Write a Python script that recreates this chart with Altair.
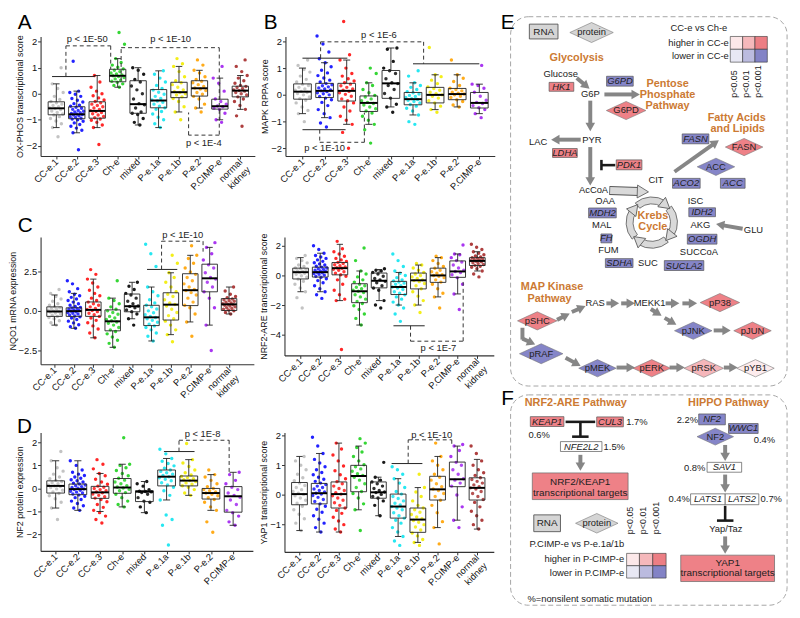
import math
import altair as alt
import pandas as pd

FONT = "Liberation Sans"

GROUPS = ["CC-e.1", "CC-e.2", "CC-e.3", "Ch-e", "mixed", "P-e.1a", "P-e.1b", "P-e.2", "P.CIMP-e", "normal kidney"]
GROUP_COLORS = ["#bdbdbd", "#0a0aff", "#ff1010", "#1fd21f", "#000000", "#10e4f0", "#f2ec00", "#ffa200", "#a020f0", "#a52a2a"]

# ---------------- Panel A : OX-PHOS transcriptional score ----------------
A_points = {
    "CC-e.1": [-1.65, -1.3, -1.15, -1.05, -0.95, -0.88, -0.82, -0.78, -0.72, -0.66, -0.61, -0.57, -0.55, -0.5, -0.45, -0.4, -0.35, -0.3, -0.22, -0.1, 0.05, 0.2, 0.38, 1.0],
    "CC-e.2": [-2.15, -1.5, -1.4, -1.32, -1.25, -1.18, -1.12, -1.06, -1.0, -0.97, -0.94, -0.91, -0.88, -0.85, -0.82, -0.8, -0.78, -0.76, -0.73, -0.7, -0.67, -0.64, -0.6, -0.56, -0.52, -0.48, -0.44, -0.38, -0.32, -0.25, -0.18, -0.1, -0.02, 0.05, 0.1, 1.25],
    "CC-e.3": [-1.95, -1.3, -1.2, -1.1, -1.02, -0.97, -0.92, -0.87, -0.82, -0.77, -0.72, -0.68, -0.65, -0.6, -0.55, -0.5, -0.45, -0.4, -0.35, -0.3, -0.24, -0.16, -0.08, 0.0, 0.1, 0.25, 0.45, 0.7],
    "Ch-e": [0.25, 0.32, 0.38, 0.44, 0.48, 0.52, 0.57, 0.62, 0.66, 0.69, 0.72, 0.76, 0.8, 0.85, 0.9, 0.95, 1.02, 1.1, 1.2, 1.35, 1.9, 2.35],
    "mixed": [-1.2, -1.1, -0.95, -0.8, -0.75, -0.7, -0.55, -0.42, -0.38, -0.2, 0.0, 0.15, 0.3, 0.45, 0.55, 0.75, 0.9, 1.0],
    "P-e.1a": [-1.3, -1.15, -1.0, -0.9, -0.78, -0.68, -0.6, -0.54, -0.48, -0.4, -0.33, -0.28, -0.24, -0.18, -0.1, -0.02, 0.06, 0.14, 0.2, 0.32, 0.45, 0.6, 0.75, 0.88],
    "P-e.1b": [-1.0, -0.7, -0.5, -0.3, -0.18, -0.12, -0.05, 0.0, 0.05, 0.08, 0.15, 0.25, 0.35, 0.42, 0.5, 0.65, 0.85, 1.05, 1.15, 1.35],
    "P-e.2": [-0.7, -0.55, -0.4, -0.2, -0.1, -0.02, 0.05, 0.12, 0.18, 0.22, 0.28, 0.35, 0.42, 0.48, 0.55, 0.65, 0.8, 0.9, 1.1, 1.3],
    "P.CIMP-e": [-1.1, -1.0, -0.75, -0.6, -0.55, -0.5, -0.47, -0.4, -0.3, -0.2, 0.1, 0.4, 0.6, 1.05],
    "normal kidney": [-1.25, -0.85, -0.6, -0.45, -0.3, -0.2, -0.12, -0.05, 0.0, 0.05, 0.1, 0.12, 0.15, 0.2, 0.24, 0.28, 0.32, 0.4, 0.5, 0.6, 0.7, 0.85, 1.05, 1.3],
}
A_q1 = [-0.81, -0.96, -0.94, 0.46, -0.75, -0.54, -0.15, -0.09, -0.59, -0.12]
A_med = [-0.56, -0.79, -0.66, 0.69, -0.40, -0.26, 0.06, 0.21, -0.48, 0.12]
A_q3 = [-0.31, -0.50, -0.31, 0.94, 0.50, 0.16, 0.44, 0.50, -0.21, 0.29]
A_lo = [-1.30, -1.50, -1.30, 0.25, -1.20, -1.30, -0.70, -0.55, -1.00, -0.60]
A_hi = [0.38, 0.10, 0.70, 1.35, 1.00, 0.88, 1.05, 0.90, 0.60, 0.70]
A_solid = [(-0.21, 0.66, 1.88, 0.66)]
A_dashed = [[(0.47, 0.66), (0.47, 1.84), (2.66, 1.84), (2.66, 0.94)],
            [(3.17, 0.5), (3.17, 1.77), (7.97, 1.77), (7.97, -1.59), (6.47, -1.59), (6.47, -0.72)]]
A_ptext = [("p < 1E-50", 1.51, 2.12), ("p < 1E-10", 5.59, 2.12), ("p < 1E-4", 7.21, -1.88)]

# ---------------- Panel B : MAPK RPPA score ----------------
B_points = {
    "CC-e.1": [-1.0, -0.7, -0.58, -0.45, -0.3, -0.2, -0.14, -0.08, 0.0, 0.05, 0.1, 0.13, 0.17, 0.22, 0.28, 0.35, 0.4, 0.48, 0.58, 0.7, 0.85, 0.95, 1.1, 1.3],
    "CC-e.2": [-1.2, -1.05, -0.85, -0.7, -0.55, -0.4, -0.28, -0.18, -0.12, -0.06, 0.0, 0.04, 0.08, 0.12, 0.15, 0.18, 0.22, 0.26, 0.3, 0.34, 0.38, 0.42, 0.48, 0.55, 0.63, 0.72, 0.82, 0.92, 1.05, 1.2, 1.35, 1.6, 1.9, 2.2],
    "CC-e.3": [-1.99, -1.4, -1.1, -0.95, -0.8, -0.6, -0.45, -0.3, -0.22, -0.15, -0.05, 0.02, 0.08, 0.13, 0.17, 0.22, 0.28, 0.34, 0.4, 0.45, 0.52, 0.6, 0.7, 0.8, 1.0, 1.3, 1.5, 2.74],
    "Ch-e": [-1.8, -1.3, -1.1, -0.95, -0.8, -0.68, -0.6, -0.52, -0.45, -0.38, -0.32, -0.28, -0.22, -0.15, -0.08, -0.02, 0.08, 0.2, 0.35, 0.45, 0.8, 1.0],
    "mixed": [-0.65, -0.45, -0.35, -0.12, 0.05, 0.2, 0.35, 0.42, 0.45, 0.6, 0.8, 0.9, 1.0, 1.25, 1.7, 1.75],
    "P-e.1a": [-1.1, -1.0, -0.75, -0.6, -0.5, -0.42, -0.36, -0.3, -0.25, -0.2, -0.17, -0.14, -0.1, -0.06, -0.02, 0.03, 0.08, 0.12, 0.2, 0.28, 0.35, 0.45, 0.7, 0.9],
    "P-e.1b": [-0.65, -0.55, -0.42, -0.3, -0.22, -0.12, -0.05, 0.0, 0.04, 0.1, 0.17, 0.24, 0.3, 0.42, 0.55, 0.68, 0.75, 1.77],
    "P-e.2": [-0.45, -0.38, -0.25, -0.18, -0.1, -0.05, 0.0, 0.03, 0.06, 0.1, 0.15, 0.2, 0.25, 0.35, 0.5, 0.62, 0.75, 1.3],
    "P.CIMP-e": [-0.85, -0.7, -0.55, -0.48, -0.4, -0.32, -0.28, -0.2, -0.05, 0.1, 0.25, 0.35, 0.4, 1.1],
}
B_q1 = [-0.16, -0.10, -0.23, -0.62, -0.13, -0.37, -0.30, -0.18, -0.49]
B_med = [0.12, 0.15, 0.15, -0.30, 0.43, -0.16, 0.00, 0.03, -0.30]
B_q3 = [0.41, 0.43, 0.43, -0.04, 0.91, 0.09, 0.28, 0.24, 0.09]
B_lo = [-0.70, -0.85, -1.10, -1.10, -0.45, -0.75, -0.55, -0.45, -0.70]
B_hi = [1.00, 1.20, 1.30, 0.45, 1.75, 0.45, 0.75, 0.75, 0.40]
B_solid = [(0.0, 1.37, 2.03, 1.37), (5.0, 1.16, 8.0, 1.16), (0.0, -1.3, 1.95, -1.3)]
B_dashed = [[(0.82, 1.37), (0.82, 1.98), (5.48, 1.98), (5.48, 1.16)],
            [(0.78, -1.3), (0.78, -1.77), (2.8, -1.77), (2.8, -0.66)]]
B_ptext = [("p < 1E-6", 3.46, 2.24), ("p < 1E-10", 1.0, -2.0)]

# ---------------- Panel C (left) : NQO1 mRNA expression ----------------
C1_points = {
    "CC-e.1": [-0.9, -0.75, -0.62, -0.5, -0.42, -0.35, -0.28, -0.2, -0.14, -0.08, -0.04, 0.0, 0.04, 0.1, 0.15, 0.2, 0.26, 0.35, 0.45, 0.6, 0.75, 0.9, 1.1, 1.35],
    "CC-e.2": [-1.1, -1.0, -0.88, -0.76, -0.65, -0.55, -0.45, -0.38, -0.32, -0.26, -0.2, -0.15, -0.1, -0.06, -0.02, 0.02, 0.06, 0.1, 0.14, 0.18, 0.22, 0.28, 0.35, 0.45, 0.55, 0.65, 0.75, 0.85, 0.95, 1.05, 1.2, 1.4, 1.7, 1.9],
    "CC-e.3": [-1.7, -1.4, -1.15, -0.95, -0.75, -0.6, -0.45, -0.35, -0.25, -0.15, -0.05, 0.02, 0.08, 0.15, 0.25, 0.35, 0.45, 0.55, 0.65, 0.8, 0.95, 1.1, 1.3, 1.5, 1.75, 2.0, 2.3, 2.6],
    "Ch-e": [-2.3, -2.05, -1.85, -1.65, -1.45, -1.3, -1.2, -1.05, -0.9, -0.78, -0.7, -0.62, -0.55, -0.45, -0.35, -0.22, -0.1, 0.0, 0.1, 0.25, 0.45, 0.65, 0.8, 1.9],
    "mixed": [-0.9, -0.5, -0.2, -0.05, 0.05, 0.2, 0.28, 0.3, 0.45, 0.6, 0.8, 1.0, 1.1, 1.35, 1.55, 1.8],
    "P-e.1a": [-1.9, -1.6, -1.4, -1.2, -1.05, -0.95, -0.85, -0.72, -0.6, -0.5, -0.42, -0.35, -0.25, -0.12, 0.0, 0.12, 0.25, 0.35, 0.5, 0.7, 0.95, 1.2, 1.5, 2.8, 3.6, 4.2],
    "P-e.1b": [-1.95, -1.5, -1.2, -0.9, -0.65, -0.5, -0.3, -0.1, 0.1, 0.3, 0.4, 0.5, 0.7, 0.9, 1.05, 1.2, 1.5, 1.8, 2.1, 2.4, 3.0, 3.5],
    "P-e.2": [-1.6, -0.7, -0.2, 0.2, 0.35, 0.55, 0.8, 1.0, 1.15, 1.28, 1.35, 1.5, 1.7, 1.9, 2.1, 2.3, 2.45, 2.7, 3.0, 3.3, 3.5, 4.1],
    "P.CIMP-e": [-2.5, -0.9, 0.2, 0.8, 1.2, 1.5, 1.8, 2.0, 2.1, 2.4, 2.7, 2.9, 3.2, 3.6, 4.0, 4.3],
    "normal kidney": [-0.2, -0.1, 0.0, 0.05, 0.1, 0.15, 0.2, 0.25, 0.3, 0.35, 0.38, 0.41, 0.45, 0.5, 0.55, 0.6, 0.65, 0.7, 0.75, 0.82, 0.9, 1.05, 1.25, 1.5],
}
C1_q1 = [-0.35, -0.35, -0.35, -1.26, -0.06, -0.93, -0.58, 0.33, 1.20, 0.02]
C1_med = [-0.04, -0.02, 0.06, -0.66, 0.29, -0.41, 0.39, 1.30, 2.05, 0.41]
C1_q3 = [0.25, 0.19, 0.56, 0.06, 1.06, 0.35, 1.14, 2.34, 2.94, 0.77]
C1_lo = [-0.90, -1.10, -1.70, -2.30, -0.50, -1.90, -1.50, -0.70, -0.90, -0.20]
C1_hi = [1.00, 1.10, 2.00, 0.80, 1.80, 1.50, 2.40, 3.50, 4.00, 1.50]
C1_solid = [(4.77, 2.61, 6.33, 2.61)]
C1_dashed = [[(5.52, 2.61), (5.52, 4.39), (7.66, 4.39), (7.66, 3.73)]]
C1_ptext = [("p < 1E-10", 6.61, 4.78)]

# ---------------- Panel C (right) : NRF2-ARE transcriptional score ----------------
C2_points = {
    "CC-e.1": [-2.2, -1.5, -1.1, -0.85, -0.6, -0.4, -0.25, -0.12, -0.02, 0.08, 0.15, 0.2, 0.24, 0.28, 0.32, 0.38, 0.45, 0.5, 0.6, 0.7, 0.85, 1.0, 1.15, 1.35],
    "CC-e.2": [-1.55, -1.3, -1.1, -0.9, -0.7, -0.5, -0.35, -0.22, -0.12, -0.05, 0.02, 0.08, 0.13, 0.18, 0.22, 0.26, 0.3, 0.35, 0.4, 0.45, 0.5, 0.56, 0.62, 0.7, 0.78, 0.86, 0.95, 1.05, 1.15, 1.25, 1.35, 1.5, 1.75, 2.0],
    "CC-e.3": [-5.0, -1.7, -1.6, -1.3, -1.0, -0.6, -0.3, -0.05, 0.05, 0.15, 0.25, 0.35, 0.42, 0.48, 0.52, 0.58, 0.65, 0.72, 0.8, 0.88, 0.95, 1.05, 1.15, 1.3, 1.45, 1.6, 1.8, 2.3],
    "Ch-e": [-3.35, -2.9, -2.6, -2.3, -2.05, -1.9, -1.75, -1.6, -1.45, -1.3, -1.15, -1.07, -1.0, -0.9, -0.8, -0.7, -0.6, -0.45, -0.3, -0.1, 0.1, 0.3, 1.0, 1.85],
    "mixed": [-2.2, -2.0, -1.7, -1.0, -0.85, -0.7, -0.5, -0.4, -0.3, -0.2, -0.05, 0.1, 0.2, 0.3, 0.35, 0.45],
    "P-e.1a": [-3.1, -2.6, -2.2, -2.0, -1.8, -1.6, -1.45, -1.3, -1.2, -1.1, -0.95, -0.85, -0.78, -0.7, -0.6, -0.52, -0.45, -0.38, -0.3, -0.15, 0.0, 0.15, 0.3, 0.6, 1.0, 1.45],
    "P-e.1b": [-2.5, -2.0, -1.7, -1.4, -1.1, -0.9, -0.7, -0.55, -0.42, -0.35, -0.3, -0.2, -0.1, 0.0, 0.1, 0.2, 0.35, 0.5, 0.7, 0.8],
    "P-e.2": [-2.2, -1.45, -1.2, -0.9, -0.6, -0.45, -0.3, -0.15, -0.05, 0.0, 0.05, 0.15, 0.25, 0.35, 0.48, 0.6, 0.8, 1.0, 1.2, 1.3],
    "P.CIMP-e": [-2.3, -1.25, -0.6, -0.15, 0.05, 0.2, 0.27, 0.35, 0.5, 0.7, 0.9, 1.0, 1.2, 1.4, 1.45, 2.05],
    "normal kidney": [-0.1, 0.1, 0.3, 0.45, 0.55, 0.62, 0.68, 0.74, 0.8, 0.86, 0.92, 0.96, 1.0, 1.04, 1.08, 1.12, 1.16, 1.2, 1.25, 1.32, 1.4, 1.5, 1.6, 1.75, 1.9, 2.1],
}
C2_q1 = [-0.24, -0.11, 0.04, -1.84, -0.84, -1.29, -0.91, -0.47, -0.13, 0.67]
C2_med = [0.22, 0.22, 0.49, -1.07, -0.36, -0.78, -0.33, 0.00, 0.27, 0.98]
C2_q3 = [0.49, 0.56, 0.87, -0.56, 0.16, -0.40, 0.16, 0.49, 0.98, 1.20]
C2_lo = [-1.10, -1.10, -1.70, -3.35, -1.70, -2.00, -2.00, -1.45, -1.25, 0.30]
C2_hi = [1.20, 1.50, 2.10, 0.30, 0.40, 0.20, 0.70, 1.20, 1.45, 1.60]
C2_solid = [(4.73, -3.4, 6.32, -3.4)]
C2_dashed = [[(5.6, -3.4), (5.6, -4.44), (8.28, -4.44), (8.28, -0.29)]]
C2_ptext = [("p < 1E-7", 7.02, -4.89)]

# ---------------- Panel D (left) : NF2 protein expression ----------------
D1_points = {
    "CC-e.1": [-1.35, -0.85, -0.6, -0.45, -0.32, -0.22, -0.15, -0.08, -0.02, 0.04, 0.08, 0.11, 0.15, 0.2, 0.25, 0.3, 0.35, 0.42, 0.5, 0.62, 0.75, 0.9, 1.2, 1.6],
    "CC-e.2": [-0.95, -0.85, -0.75, -0.65, -0.55, -0.48, -0.4, -0.34, -0.28, -0.24, -0.2, -0.16, -0.12, -0.08, -0.05, -0.02, 0.01, 0.04, 0.08, 0.12, 0.15, 0.19, 0.23, 0.28, 0.33, 0.38, 0.44, 0.5, 0.56, 0.62, 0.7, 0.8, 1.0, 1.2],
    "CC-e.3": [-1.5, -1.35, -1.2, -1.05, -0.95, -0.82, -0.7, -0.58, -0.48, -0.42, -0.36, -0.3, -0.24, -0.19, -0.15, -0.1, -0.05, 0.0, 0.05, 0.1, 0.18, 0.28, 0.4, 0.55, 0.65, 0.85, 1.05, 1.25],
    "Ch-e": [-0.8, -0.7, -0.55, -0.4, -0.25, -0.18, -0.1, -0.04, 0.02, 0.06, 0.12, 0.2, 0.28, 0.36, 0.44, 0.55, 0.65, 0.78, 0.9, 1.0, 1.05, 2.2],
    "mixed": [-1.05, -0.8, -0.6, -0.55, -0.4, -0.25, -0.18, -0.15, -0.13, -0.12, -0.05, 0.1, 0.2, 0.3],
    "P-e.1a": [-2.45, -1.6, -1.35, -1.15, -0.5, -0.3, -0.1, 0.05, 0.15, 0.25, 0.33, 0.4, 0.46, 0.51, 0.56, 0.62, 0.68, 0.74, 0.8, 0.88, 0.98, 1.08, 1.18, 1.3, 1.5, 1.7],
    "P-e.1b": [-0.3, -0.2, -0.05, 0.05, 0.12, 0.18, 0.24, 0.3, 0.34, 0.38, 0.42, 0.47, 0.52, 0.58, 0.68, 0.8, 0.95, 1.1, 1.25, 1.95],
    "P-e.2": [-1.9, -1.45, -0.95, -0.8, -0.6, -0.48, -0.4, -0.32, -0.25, -0.2, -0.15, -0.1, -0.05, 0.0, 0.08, 0.2, 0.35, 0.5, 0.6, 0.8],
    "P.CIMP-e": [-1.6, -1.45, -1.2, -1.05, -0.95, -0.7, -0.5, -0.38, -0.3, -0.2, -0.05, 0.05, 0.2, 0.35, 0.6, 0.7],
}
D1_q1 = [-0.20, -0.27, -0.43, -0.21, -0.57, 0.11, 0.11, -0.46, -1.03]
D1_med = [0.11, -0.03, -0.17, 0.04, -0.14, 0.51, 0.34, -0.20, -0.34]
D1_q3 = [0.33, 0.19, 0.09, 0.43, -0.10, 0.80, 0.54, 0.00, 0.08]
D1_lo = [-0.85, -0.95, -1.00, -0.80, -1.05, -0.50, -0.30, -0.95, -1.60]
D1_hi = [1.20, 1.20, 0.65, 1.05, 0.30, 1.30, 1.25, 0.60, 0.70]
D1_solid = [(4.88, 1.6, 6.26, 1.6)]
D1_dashed = [[(5.56, 1.6), (5.56, 2.09), (7.82, 2.09), (7.82, 0.72)]]
D1_ptext = [("p < 1E-8", 6.62, 2.36)]

# ---------------- Panel D (right) : YAP1 transcriptional score ----------------
D2_points = {
    "CC-e.1": [-1.2, -0.95, -0.8, -0.65, -0.5, -0.38, -0.28, -0.18, -0.1, -0.03, 0.02, 0.06, 0.12, 0.18, 0.25, 0.32, 0.4, 0.48, 0.58, 0.7, 0.85, 1.0, 1.15, 1.3],
    "CC-e.2": [-1.25, -1.1, -0.95, -0.82, -0.7, -0.58, -0.48, -0.38, -0.3, -0.22, -0.15, -0.08, -0.02, 0.03, 0.06, 0.1, 0.15, 0.2, 0.25, 0.3, 0.35, 0.4, 0.46, 0.53, 0.6, 0.68, 0.76, 0.85, 0.95, 1.08, 1.2, 1.4, 1.65, 1.95],
    "CC-e.3": [-1.25, -1.15, -1.0, -0.88, -0.75, -0.62, -0.52, -0.44, -0.35, -0.26, -0.18, -0.1, -0.03, 0.03, 0.08, 0.15, 0.22, 0.3, 0.38, 0.45, 0.55, 0.68, 0.82, 0.98, 1.15, 1.35, 1.55, 1.75],
    "Ch-e": [-1.2, -0.5, -0.3, -0.1, 0.05, 0.12, 0.25, 0.38, 0.5, 0.6, 0.66, 0.72, 0.8, 0.88, 0.95, 1.02, 1.15, 1.3, 1.45, 1.6, 1.75, 1.9],
    "mixed": [-0.7, -0.35, -0.2, -0.1, -0.05, 0.02, 0.08, 0.1, 0.15, 0.22, 0.3, 0.38, 0.44, 0.5, 0.6, 1.1],
    "P-e.1a": [-1.7, -1.55, -1.4, -1.25, -1.1, -0.95, -0.85, -0.78, -0.7, -0.6, -0.5, -0.44, -0.39, -0.34, -0.28, -0.2, -0.12, -0.05, 0.03, 0.12, 0.25, 0.4, 0.55, 0.7, 0.85, 0.95],
    "P-e.1b": [-1.7, -1.6, -1.5, -1.38, -1.28, -1.18, -1.08, -1.0, -0.92, -0.86, -0.8, -0.74, -0.66, -0.58, -0.5, -0.44, -0.35, -0.2, -0.05, 0.1, 0.25, 0.7],
    "P-e.2": [-1.65, -1.1, -0.9, -0.6, -0.35, -0.18, -0.05, 0.05, 0.15, 0.2, 0.28, 0.38, 0.5, 0.6, 0.7, 0.85, 1.0, 1.15, 1.3, 1.75],
    "P.CIMP-e": [-1.1, -0.85, -0.4, 0.0, 0.3, 0.4, 0.5, 0.55, 0.7, 0.85, 1.0, 1.1, 1.3, 1.5, 1.65, 1.7],
    "normal kidney": [-1.15, -1.0, -0.85, -0.7, -0.55, -0.4, -0.25, -0.15, -0.05, 0.05, 0.12, 0.2, 0.24, 0.28, 0.34, 0.4, 0.46, 0.52, 0.58, 0.66, 0.75, 0.85, 1.0, 1.15, 1.4, 1.65],
}
D2_q1 = [-0.33, -0.30, -0.44, 0.11, -0.11, -0.78, -1.26, -0.17, 0.28, -0.17]
D2_med = [0.03, 0.06, 0.03, 0.64, 0.09, -0.39, -0.83, 0.19, 0.53, 0.24]
D2_q3 = [0.42, 0.39, 0.44, 1.00, 0.44, 0.03, -0.44, 0.63, 1.11, 0.58]
D2_lo = [-1.20, -1.25, -1.25, -0.50, -0.70, -1.40, -1.60, -1.10, -0.85, -1.15]
D2_hi = [1.30, 1.40, 1.75, 1.65, 0.60, 0.55, 0.25, 1.30, 1.65, 1.20]
D2_solid = [(4.67, 1.06, 6.23, 1.06)]
D2_dashed = [[(5.51, 1.06), (5.51, 1.86), (7.72, 1.86), (7.72, 1.67)]]
D2_ptext = [("p < 1E-10", 6.7, 2.03)]


def seg_frame(paths):
    rows = []
    for p in paths:
        for a, b in zip(p[:-1], p[1:]):
            rows.append({"x1": a[0], "y1": a[1], "x2": b[0], "y2": b[1]})
    return pd.DataFrame(rows)


def make_panel(letter, ytitle, n, pts_dict, q1, med, q3, lo, hi, xdom, ydom, yticks, yfmt,
               solid, dashed, ptext, width, height):
    names = GROUPS[:n]
    pts = pd.DataFrame([{"i": i, "v": v} for i, g in enumerate(names) for v in pts_dict[g]])
    bx = pd.DataFrame({"i": list(range(n)), "q1": q1, "med": med, "q3": q3, "lo": lo, "hi": hi})
    xs = alt.Scale(domain=xdom, nice=False, zero=False)
    ys = alt.Scale(domain=ydom, nice=False, zero=False)
    lab = "[" + ",".join("['normal','kidney']" if g == "normal kidney" else "'" + g + "'" for g in names) + "][round(datum.value)]"
    xaxis = alt.Axis(values=list(range(n)), labelExpr=lab, labelAngle=-45, labelAlign="right",
                     labelBaseline="middle", labelOverlap=False, labelBound=False, labelFlush=False,
                     title=None, labelPadding=1)
    yaxis = alt.Axis(values=yticks, format=yfmt, title=ytitle, titlePadding=1, labelPadding=1)

    def X(f):
        return alt.X(f, type="quantitative", scale=xs, axis=xaxis)

    def Y(f):
        return alt.Y(f, type="quantitative", scale=ys, axis=yaxis)

    color = alt.Color("i:O", scale=alt.Scale(domain=list(range(n)), range=GROUP_COLORS[:n]), legend=None)
    points = alt.Chart(pts).transform_window(rn="row_number()", groupby=["i"]).transform_calculate(
        xj="datum.i + ((datum.rn * 0.6180339887) % 1 - 0.5) * 0.7"
    ).mark_circle(size=12, opacity=0.9).encode(x=X("xj"), y=Y("v"), color=color)
    base = alt.Chart(bx).transform_calculate(
        xa="datum.i - 0.4", xb="datum.i + 0.4", ca="datum.i - 0.16", cb="datum.i + 0.16")
    rect = base.mark_rect(fill="white", fillOpacity=0.1, stroke="#222", strokeWidth=0.9).encode(
        x=X("xa"), x2="xb:Q", y=Y("q1"), y2="q3:Q")
    wl = base.mark_rule(color="#222", strokeWidth=0.9).encode(x=X("i"), y=Y("lo"), y2="q1:Q")
    wh = base.mark_rule(color="#222", strokeWidth=0.9).encode(x=X("i"), y=Y("q3"), y2="hi:Q")
    cl = base.mark_rule(color="#222", strokeWidth=0.9).encode(x=X("ca"), x2="cb:Q", y=Y("lo"))
    ch = base.mark_rule(color="#222", strokeWidth=0.9).encode(x=X("ca"), x2="cb:Q", y=Y("hi"))
    md = base.mark_rule(color="#000", strokeWidth=2).encode(x=X("xa"), x2="xb:Q", y=Y("med"))
    sol = alt.Chart(pd.DataFrame(solid, columns=["x1", "y1", "x2", "y2"])).mark_rule(
        color="#222", strokeWidth=1).encode(x=X("x1"), x2="x2:Q", y=Y("y1"), y2="y2:Q")
    das = alt.Chart(seg_frame(dashed)).mark_rule(
        color="#333", strokeWidth=1, strokeDash=[4, 3]).encode(x=X("x1"), x2="x2:Q", y=Y("y1"), y2="y2:Q")
    txt = alt.Chart(pd.DataFrame(ptext, columns=["t", "x", "y"])).mark_text(
        fontSize=9.5, font=FONT, color="#222").encode(x=X("x"), y=Y("y"), text="t:N")
    layers = [points, rect, wl, wh, cl, ch, md, sol, das, txt]
    if letter:
        t, lx, ly = letter
        layers.append(alt.Chart(pd.DataFrame({"t": [t]})).mark_text(
            font=FONT, fontSize=21, align="left", baseline="alphabetic", color="black").encode(
            x=alt.value(lx), y=alt.value(ly), text="t:N"))
    return alt.layer(*layers).properties(width=width, height=height)


pA = make_panel(("A", -23, -8), "OX-PHOS transcriptional score", 10, A_points, A_q1, A_med, A_q3, A_lo, A_hi,
                [-0.77, 9.71], [-2.39, 2.2], [-2, -1, 0, 1, 2], "d", A_solid, A_dashed, A_ptext, 217, 121)
pB = make_panel(("B", -22, -8), "MAPK RPPA score", 9, B_points, B_q1, B_med, B_q3, B_lo, B_hi,
                [-0.77, 8.7], [-2.28, 2.18], [-2, -1, 0, 1, 2], "d", B_solid, B_dashed, B_ptext, 212, 121)
pC1 = make_panel(("C", -23, -5), "NQO1 mRNA expression", 10, C1_points, C1_q1, C1_med, C1_q3, C1_lo, C1_hi,
                 [-0.72, 10.28], [-3.37, 4.66], [-2.5, 0, 2.5], ".1f", C1_solid, C1_dashed, C1_ptext, 216, 129)
pC2 = make_panel(None, "NRF2-ARE transcriptional score", 10, C2_points, C2_q1, C2_med, C2_q3, C2_lo, C2_hi,
                 [-0.82, 9.84], [-5.4, 2.6], [-4, -2, 0, 2], "d", C2_solid, C2_dashed, C2_ptext, 212, 120)
pD1 = make_panel(("D", -24, 1), "NF2 protein expression", 9, D1_points, D1_q1, D1_med, D1_q3, D1_lo, D1_hi,
                 [-0.68, 8.89], [-2.71, 2.43], [-2, -1, 0, 1, 2], "d", D1_solid, D1_dashed, D1_ptext, 215, 120)
pD2 = make_panel(None, "YAP1 transcriptional score", 10, D2_points, D2_q1, D2_med, D2_q3, D2_lo, D2_hi,
                 [-0.76, 9.85], [-1.92, 2.11], [-1, 0, 1, 2], "d", D2_solid, D2_dashed, D2_ptext, 212, 121)

# ---------------- Panels E / F : pathway diagrams ----------------
KIND_FILL = {"up": "#ee8187", "down": "#8585c8", "none": "#ffffff", "grey": "#d5d5d5",
             "up2": "#f5b6ba", "up3": "#fdeced"}
FRAMES = [(511, 13, 791, 387), (511, 396, 791, 609)]
LETTERS = [("E", 508, 19), ("F", 508, 400)]
GENE_BOXES = [
    ("HK1", 562.5, 84, 25, 9, "up"), ("G6PD", 621.7, 78.3, 27, 10, "down"),
    ("LDHA", 566, 151, 25, 9, "up"), ("PDK1", 631, 163, 26, 10, "up"),
    ("FASN", 698.3, 136.7, 27, 10, "down"), ("ACO2", 689, 181.7, 28, 10, "down"),
    ("ACC", 736, 181.7, 25, 10, "down"), ("MDH2", 604, 211.7, 28, 10, "down"),
    ("FH", 608, 237.5, 11, 9, "down"), ("SDHA", 621, 262.5, 28, 9, "down"),
    ("SUCLA2", 686.7, 265, 40, 10, "down"), ("OGDH", 705, 238.3, 30, 10, "down"),
    ("IDH2", 705, 211, 27, 9, "down"),
    ("KEAP1", 548, 423, 34, 10, "up"), ("CUL3", 611.7, 423.3, 27, 10, "up"),
    ("NFE2L2", 582.5, 448.3, 42, 10, "none"),
    ("NF2", 715, 420.8, 27, 11, "down"), ("WWC1", 746.7, 430, 30, 10, "down"),
    ("SAV1", 727.5, 469.3, 35, 10, "none"), ("LATS1", 710.8, 501.7, 35, 11, "none"),
    ("LATS2", 745.4, 501.7, 34, 11, "none"),
]
RNA_BOXES = [("RNA", 544.5, 28, 29, 15, "grey"), ("RNA", 548, 526, 27, 17, "grey")]
DIAMONDS = [
    ("protein", 593, 29, 44, "grey"), ("G6PD", 628, 108, 40, "up"), ("FASN", 747.5, 145, 38, "up"),
    ("ACC", 719, 165, 38, "down"), ("pSHC", 538, 321, 40, "up"), ("pP38", 723, 302.5, 40, "up"),
    ("pJNK", 696, 331, 38, "down"), ("pJUN", 756, 331, 38, "up"), ("pRAF", 542, 354.3, 44, "down"),
    ("pMEK", 599, 369, 38, "down"), ("pERK", 654, 369, 38, "up"), ("pRSK", 706.7, 369, 40, "up2"),
    ("pYB1", 759, 369, 38, "up3"), ("protein", 598.3, 526, 43, "grey"), ("NF2", 718.3, 438.3, 37, "down"),
]
GREY_ARROWS = [
    (578, 75, 591, 86), (606, 91.7, 642, 91.7), (591.7, 98, 591.7, 129), (582, 137.5, 552, 137.5),
    (591.7, 145, 591.7, 184), (677, 170, 722, 138), (746, 227.7, 719, 223),
    (558, 320, 571, 313.5), (573, 312, 587, 306), (608, 303.3, 621, 303.3), (623, 303.3, 637, 303.3),
    (668, 303.3, 682, 303.3), (685, 303.3, 700, 303.3), (653, 309, 664, 316), (667, 318, 679, 325),
    (716.7, 330.7, 734, 330.7), (523, 339, 536, 345), (566.7, 358.3, 582, 366.7),
    (618.3, 368.3, 637, 368.3), (672, 368.3, 687.5, 368.3), (727, 368.3, 741, 368.3),
    (581.7, 456.7, 581.7, 473), (728.3, 446.7, 728.3, 463), (728.3, 476.7, 728.3, 495),
    (728.3, 539.3, 728.3, 557),
]
GREY_LINES = [(523, 328, 523, 340)]
INHIB_LINES = [
    (603, 163.3, 617, 163.3), (603, 158, 603, 168.5),
    (566.7, 423.3, 596.7, 423.3), (581.7, 423.3, 581.7, 438.3), (573.3, 438.3, 590, 438.3),
    (728.3, 508.3, 728.3, 523.3), (720, 523.3, 736.7, 523.3),
]
KREBS = (654, 221.5)
KREBS_SEGMENTS = [(-40, 33), (50, 123), (140, 213), (230, 303)]
PLAIN_TEXT = [
    ("Glucose", 561.7, 70.7), ("G6P", 591.7, 91.7), ("PYR", 593.3, 138.3), ("LAC", 539, 140),
    ("AcCoA", 595, 188.3), ("CIT", 658.3, 178.3), ("OAA", 606.7, 199.5), ("MAL", 603.3, 224.3),
    ("FUM", 610, 249.5), ("SUC", 650, 262), ("SUCCoA", 701.7, 251.5), ("AKG", 703.3, 224.3),
    ("ISC", 698.3, 199.5), ("GLU", 757, 229), ("RAS", 596.7, 303.3), ("MEKK1", 651.7, 303.3),
    ("Yap/Taz", 729, 531.7),
    ("0.6%", 540, 436.7), ("1.7%", 639, 423.3), ("1.5%", 616, 448.3), ("2.2%", 690, 421.5),
    ("0.4%", 768, 441.5), ("0.8%", 697.5, 470.5), ("0.4%", 681.7, 501.7), ("0.7%", 775, 501.7),
]
HEADINGS = [
    ("Glycolysis", 578, 55), ("Pentose", 670, 81), ("Phosphate", 670, 92.3), ("Pathway", 670, 103.6),
    ("Fatty Acids", 740, 115.5), ("and Lipids", 741, 127), ("Krebs", 655, 215), ("Cycle", 655, 226),
    ("MAP Kinase", 553, 287), ("Pathway", 550.5, 298.5), ("NRF2-ARE Pathway", 577, 404),
    ("HIPPO Pathway", 731.7, 404),
]
BIG_BOXES = [(533, 475, 630, 502, "up"), (683.3, 558.3, 778.3, 585, "up")]
BIG_TEXT = [("NRF2/KEAP1", 581.5, 484.5), ("transcriptional targets", 581.5, 495),
            ("YAP1", 730.8, 566.5), ("transcriptional targets", 730.8, 576.5)]
LEG_CENTER = [("CC-e vs Ch-e", 701.7, 24)]
LEG_RIGHT = [("higher in CC-e", 732, 39.5), ("lower in CC-e", 732, 53),
             ("P.CIMP-e vs P-e.1a/1b", 626, 546.7), ("higher in P-CIMP-e", 626, 562.5),
             ("lower in P.CIMP-e", 626, 576)]
LEG_LEFT = [("%=nonsilent somatic mutation", 528, 603)]
CELL_UP = ["#fce8e9", "#f5b8bb", "#ec7e84"]
CELL_DOWN = ["#e8e8f4", "#bbbbdf", "#8383c6"]
LEG_GRIDS = [([733.5, 746, 758.5, 771], [33, 46, 59]), ([628.5, 641.5, 655, 668.5], [556.5, 569, 581.5])]
P_LABELS = ["p<0.05", "p<0.01", "p<0.001"]
P_LABEL_POS = [([737, 749.5, 762], 95), ([632, 645, 658], 537)]

DTOP = 33
DX = alt.Scale(domain=[500, 796], nice=False, zero=False)
DY = alt.Scale(domain=[DTOP, 610], nice=False, zero=False, reverse=True)
DIAMOND_PATH = "M-1,0L0,-0.46L1,0L0,0.46Z"


def gx(f):
    return alt.X(f, type="quantitative", scale=DX, axis=None)


def gy(f):
    return alt.Y(f, type="quantitative", scale=DY, axis=None)


def fill_kind():
    return alt.Fill("kind:N", scale=alt.Scale(domain=list(KIND_FILL), range=list(KIND_FILL.values())), legend=None)


def arrow_parts(arrs, head=4.3, back=6.0):
    lines, heads = [], []
    for x1, y1, x2, y2 in arrs:
        ddx, ddy = x2 - x1, y2 - y1
        L = math.hypot(ddx, ddy)
        ux, uy = ddx / L, ddy / L
        lines.append({"x1": x1, "y1": y1, "x2": x2 - ux * back, "y2": y2 - uy * back})
        heads.append({"x": x2 - ux * head, "y": y2 - uy * head,
                      "ang": math.degrees(math.atan2(ddx, -ddy)) % 360})
    return pd.DataFrame(lines), pd.DataFrame(heads)


def rect_frame(items):
    return pd.DataFrame([{"t": t, "x1": cx - w / 2, "x2": cx + w / 2, "y1": cy - h / 2, "y2": cy + h / 2,
                          "cx": cx, "cy": cy, "kind": k} for t, cx, cy, w, h, k in items])


def text_layer(items, **kw):
    df = pd.DataFrame(items, columns=["t", "x", "y"])
    return alt.Chart(df).mark_text(font=FONT, **kw).encode(x=gx("x"), y=gy("y"), text="t:N")


def seg_layer(items, **kw):
    df = pd.DataFrame(items, columns=["x1", "y1", "x2", "y2"])
    return alt.Chart(df).mark_rule(**kw).encode(x=gx("x1"), x2="x2:Q", y=gy("y1"), y2="y2:Q")


layers = []
layers.append(alt.Chart(pd.DataFrame(FRAMES, columns=["x1", "y1", "x2", "y2"])).mark_rect(
    fill="white", fillOpacity=0, stroke="#a5a5a5", strokeWidth=1, strokeDash=[5, 3], cornerRadius=18
).encode(x=gx("x1"), x2="x2:Q", y=gy("y1"), y2="y2:Q"))
layers.append(text_layer(LETTERS, fontSize=21, color="black", baseline="middle"))

ar_lines, ar_heads = arrow_parts(GREY_ARROWS)
layers.append(alt.Chart(ar_lines).mark_rule(color="#868686", strokeWidth=4).encode(
    x=gx("x1"), x2="x2:Q", y=gy("y1"), y2="y2:Q"))
layers.append(seg_layer(GREY_LINES, color="#868686", strokeWidth=4))
layers.append(alt.Chart(ar_heads).mark_point(shape="triangle-up", filled=True, color="#868686", size=95, opacity=1).encode(
    x=gx("x"), y=gy("y"), angle=alt.Angle("ang:Q", scale=None)))
layers.append(seg_layer(INHIB_LINES, color="#1a1a1a", strokeWidth=2.6))

# Krebs cycle ring
ring = pd.DataFrame([{"cx": KREBS[0], "cy": KREBS[1], "t1": math.radians(a), "t2": math.radians(b)}
                     for a, b in KREBS_SEGMENTS])
layers.append(alt.Chart(ring).mark_arc(radius=26, radius2=19, fill="#d9d9d9", stroke="#555", strokeWidth=0.8).encode(
    x=gx("cx"), y=gy("cy"), theta=alt.Theta("t1:Q", scale=None), theta2=alt.Theta2("t2:Q")))
ring_heads = pd.DataFrame([{"x": KREBS[0] + 22.5 * math.sin(math.radians(b + 6)),
                            "y": KREBS[1] - 22.5 * math.cos(math.radians(b + 6)),
                            "ang": (b + 6 + 90) % 360} for a, b in KREBS_SEGMENTS])
layers.append(alt.Chart(ring_heads).mark_point(shape="triangle-up", filled=True, fill="#d9d9d9", stroke="#555",
                                               strokeWidth=0.8, size=150, opacity=1).encode(
    x=gx("x"), y=gy("y"), angle=alt.Angle("ang:Q", scale=None)))
# hollow arrow AcCoA -> cycle
layers.append(seg_layer([(611, 189, 641, 190)], color="#555", strokeWidth=9))
layers.append(seg_layer([(611.8, 189, 641, 190)], color="#d9d9d9", strokeWidth=7))
layers.append(alt.Chart(pd.DataFrame([{"x": 645, "y": 190.2, "ang": 92}])).mark_point(
    shape="triangle-up", filled=True, fill="#d9d9d9", stroke="#555", strokeWidth=0.8, size=170, opacity=1).encode(
    x=gx("x"), y=gy("y"), angle=alt.Angle("ang:Q", scale=None)))

# boxes
big = pd.DataFrame(BIG_BOXES, columns=["x1", "y1", "x2", "y2", "kind"])
layers.append(alt.Chart(big).mark_rect(stroke="#666", strokeWidth=0.7).encode(
    x=gx("x1"), x2="x2:Q", y=gy("y1"), y2="y2:Q", fill=fill_kind()))
layers.append(text_layer(BIG_TEXT, fontSize=10, color="#222", baseline="middle"))
genes = rect_frame(GENE_BOXES)
layers.append(alt.Chart(genes).mark_rect(stroke="#555", strokeWidth=0.7).encode(
    x=gx("x1"), x2="x2:Q", y=gy("y1"), y2="y2:Q", fill=fill_kind()))
layers.append(alt.Chart(genes).mark_text(font=FONT, fontStyle="italic", fontSize=9.5, color="#222", baseline="middle").encode(
    x=gx("cx"), y=gy("cy"), text="t:N"))
rna = rect_frame(RNA_BOXES)
layers.append(alt.Chart(rna).mark_rect(stroke="#555", strokeWidth=0.9).encode(
    x=gx("x1"), x2="x2:Q", y=gy("y1"), y2="y2:Q", fill=fill_kind()))
layers.append(alt.Chart(rna).mark_text(font=FONT, fontSize=10, color="#222", baseline="middle").encode(
    x=gx("cx"), y=gy("cy"), text="t:N"))
dia = pd.DataFrame([{"t": t, "x": x, "y": y, "s": w * w, "kind": k} for t, x, y, w, k in DIAMONDS])
layers.append(alt.Chart(dia).mark_point(shape=DIAMOND_PATH, filled=True, opacity=1, stroke="#777", strokeWidth=0.6).encode(
    x=gx("x"), y=gy("y"), size=alt.Size("s:Q", scale=None), fill=fill_kind()))
layers.append(alt.Chart(dia).mark_text(font=FONT, fontSize=9.5, color="#222", baseline="middle").encode(
    x=gx("x"), y=gy("y"), text="t:N"))

layers.append(text_layer(PLAIN_TEXT, fontSize=9.5, color="#222", baseline="middle"))
layers.append(text_layer(HEADINGS, fontSize=11, fontWeight="bold", color="#cc7a33", baseline="middle"))
layers.append(text_layer(LEG_CENTER, fontSize=9.5, color="#222", baseline="middle"))
layers.append(text_layer(LEG_RIGHT, fontSize=9.5, color="#222", baseline="middle", align="right"))
layers.append(text_layer(LEG_LEFT, fontSize=9.5, color="#222", baseline="middle", align="left"))

cells = []
for xs_, ys_ in LEG_GRIDS:
    for r, pal in enumerate([CELL_UP, CELL_DOWN]):
        for c in range(3):
            cells.append({"x1": xs_[c], "x2": xs_[c + 1], "y1": ys_[r], "y2": ys_[r + 1], "col": pal[c]})
layers.append(alt.Chart(pd.DataFrame(cells)).mark_rect(stroke="#333", strokeWidth=0.6).encode(
    x=gx("x1"), x2="x2:Q", y=gy("y1"), y2="y2:Q", fill=alt.Fill("col:N", scale=None)))
plab = pd.DataFrame([{"t": P_LABELS[k], "x": xs_[k], "y": yb} for xs_, yb in P_LABEL_POS for k in range(3)])
layers.append(alt.Chart(plab).mark_text(font=FONT, fontSize=9, color="#222", angle=270, align="left", baseline="middle").encode(
    x=gx("x"), y=gy("y"), text="t:N"))

diagram = alt.layer(*layers).properties(width=296, height=610 - DTOP)

left = alt.vconcat(
    alt.hconcat(pA, pB, spacing=6),
    alt.vconcat(
        alt.hconcat(pC1, pC2, spacing=6),
        alt.hconcat(pD1, pD2, spacing=7),
        spacing=17,
    ),
    spacing=24,
)

chart = alt.hconcat(left, diagram, spacing=5).properties(
    padding={"left": 0, "top": 0, "right": 0, "bottom": 0}
).configure_view(strokeWidth=0).configure_axis(
    domainColor="#333", tickColor="#333", labelColor="#111", titleColor="#111",
    labelFont=FONT, titleFont=FONT, labelFontSize=9.5, titleFontSize=9,
    titleFontWeight="normal", tickSize=3, grid=False, domainWidth=1.1,
)

chart.save("out.html", embed_options={"renderer": "svg", "actions": False})
